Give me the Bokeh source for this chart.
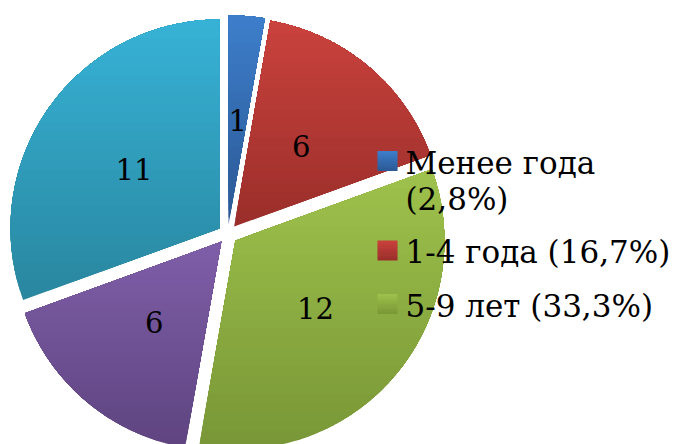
import math
from bokeh.plotting import figure
from bokeh.models import Range1d
from bokeh.core.properties import value
from bokeh.embed import file_html
from bokeh.resources import INLINE

# ---- data ----
values = [1, 6, 12, 6, 11]
legend_names = ["Менее года", "1-4 года", "5-9 лет"]
top_colors = ["#3d7ecb", "#ca423d", "#9ec24c", "#7f5ea8", "#37b2d6"]
bottom_colors = ["#2b5894", "#9a2e2a", "#789636", "#5e4480", "#29869f"]

# ---- layout (screen px, y down) ----
W, H = 676, 444
CX, CY = 227.2, 233.7
R = 209.0
EXPLODE = 10.0
LABEL_F = 0.5
FONT = "DejaVu Serif"


def up(y):
    return H - y


def hexrgb(c):
    c = c.lstrip("#")
    return tuple(int(c[i:i + 2], 16) for i in (0, 2, 4))


def mix(c1, c2, t):
    a, b = hexrgb(c1), hexrgb(c2)
    return "#%02x%02x%02x" % tuple(int(round(a[i] + (b[i] - a[i]) * t)) for i in range(3))


def clip_above(poly, t):
    # keep part with y_up >= t
    out = []
    n = len(poly)
    for i in range(n):
        p = poly[i]
        q = poly[(i + 1) % n]
        pin = p[1] >= t
        qin = q[1] >= t
        if pin:
            out.append(p)
        if pin != qin:
            s = (t - p[1]) / (q[1] - p[1])
            out.append((p[0] + s * (q[0] - p[0]), t))
    return out


total = float(sum(values))
xs, ys, cols = [], [], []
lab_x, lab_y, lab_t = [], [], []
start = 0.0
for i, v in enumerate(values):
    span = 360.0 * v / total
    a0, a1 = start, start + span
    mid = math.radians((a0 + a1) / 2)
    tx = CX + EXPLODE * math.sin(mid)
    ty = up(CY) + EXPLODE * math.cos(mid)
    poly = [(tx, ty)]
    steps = max(8, int(span * 2))
    for k in range(steps + 1):
        a = math.radians(a0 + (a1 - a0) * k / steps)
        poly.append((tx + R * math.sin(a), ty + R * math.cos(a)))
    ymin = min(p[1] for p in poly)
    ymax = max(p[1] for p in poly)
    N = 30
    for k in range(N):
        t = ymin + (ymax - ymin) * k / N
        part = poly if k == 0 else clip_above(poly, t)
        if len(part) < 3:
            continue
        xs.append([p[0] for p in part])
        ys.append([p[1] for p in part])
        cols.append(mix(bottom_colors[i], top_colors[i], (k + 0.5) / N))
    lab_x.append(tx + LABEL_F * R * math.sin(mid))
    lab_y.append(ty + LABEL_F * R * math.cos(mid))
    lab_t.append(str(v))
    start = a1

p = figure(width=W, height=H, x_range=Range1d(0, W), y_range=Range1d(0, H),
           output_backend="svg", toolbar_location=None, min_border=0)
p.axis.visible = False
p.grid.visible = False
p.outline_line_color = None
p.background_fill_color = "white"
p.border_fill_color = "white"

p.patches(xs, ys, fill_color=cols, line_color=None)
p.text(lab_x, lab_y, text=lab_t, text_font=value(FONT), text_font_size="29px",
       text_align="center", text_baseline="middle", text_color="black")

# ---- legend ----
LX_MARK, LX_TEXT = 387, 405
LY0 = 162
LINE_H = 36
ENTRY_H = 53.5
MARK = 20
MB = 8
ly = LY0
ql, qr, qb, qt, qc = [], [], [], [], []
tx_, ty_, tt = [], [], []
for j, name in enumerate(legend_names):
    pct = 100.0 * values[j] / total
    label = f"{name} ({pct:.1f}%)".replace(".", ",")
    lines = [label]
    if len(label) > 16:
        lines = [name, f"({pct:.1f}%)".replace(".", ",")]
    cy_m = up(ly - 1.5)
    for k in range(MB):
        ql.append(LX_MARK - MARK / 2)
        qr.append(LX_MARK + MARK / 2)
        qb.append(cy_m - MARK / 2 + MARK * k / MB)
        qt.append(cy_m - MARK / 2 + MARK * (k + 1) / MB + (0.4 if k < MB - 1 else 0))
        qc.append(mix(bottom_colors[j], top_colors[j], (k + 0.5) / MB))
    for li, ln in enumerate(lines):
        tx_.append(LX_TEXT)
        ty_.append(up(ly + li * LINE_H))
        tt.append(ln)
    ly = ly + (len(lines) - 1) * LINE_H + ENTRY_H

p.quad(left=ql, right=qr, bottom=qb, top=qt, fill_color=qc, line_color=None)
p.text(tx_, ty_, text=tt, text_font=value(FONT), text_font_size="31px",
       text_align="left", text_baseline="middle", text_color="black")

open("out.html", "w").write(file_html(p, INLINE))
